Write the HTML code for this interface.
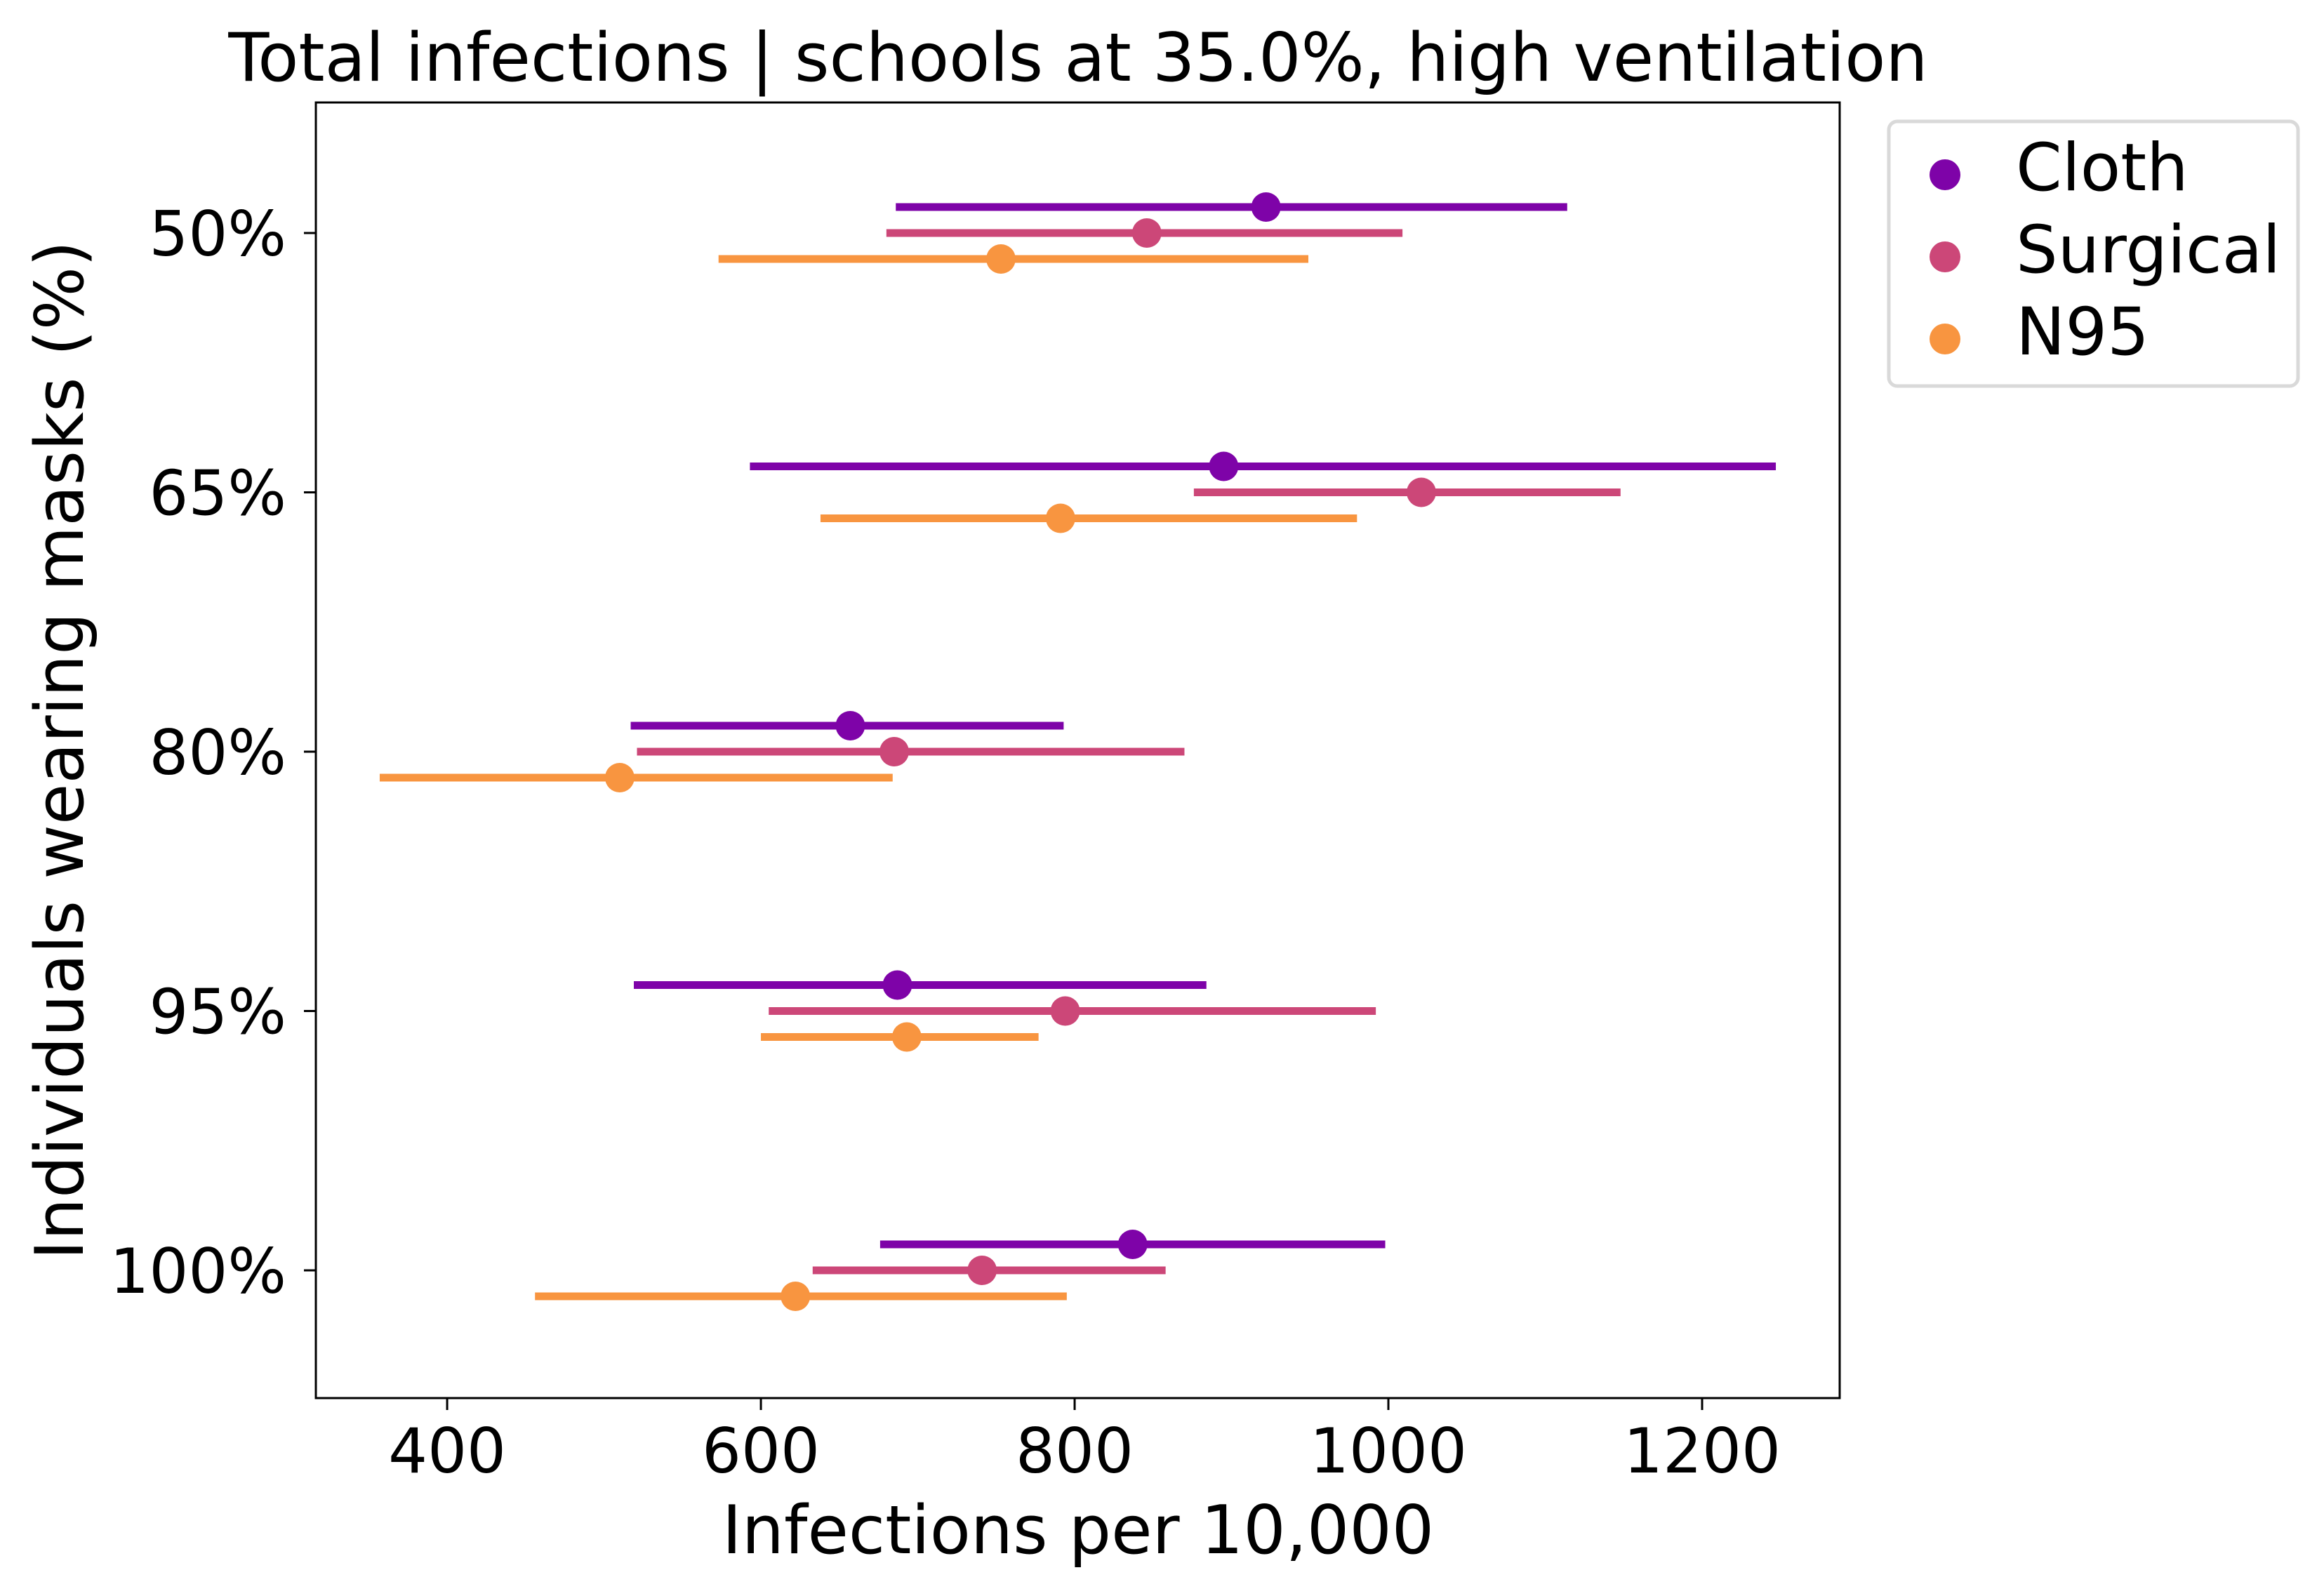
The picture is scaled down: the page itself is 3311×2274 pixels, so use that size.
<!DOCTYPE html>
<html><head><meta charset="utf-8"><style>
html,body{margin:0;padding:0;background:#fff}
svg{display:block;font-family:"DejaVu Sans","Liberation Sans",sans-serif}
</style></head><body>
<svg id="chart" width="3311" height="2274" viewBox="0 0 3311 2274" xmlns="http://www.w3.org/2000/svg">
<rect width="3311" height="2274" fill="#fff"/>
<g id="plot"></g>
<rect x="450" y="146" width="2171" height="1846" fill="none" stroke="#000" stroke-width="3"/>
<g id="axes"></g>
<text x="1536" y="115" font-size="95" text-anchor="middle">Total infections | schools at 35.0%, high ventilation</text>
<text x="1536" y="2213" font-size="95" text-anchor="middle">Infections per 10,000</text>
<text transform="translate(118,1069) rotate(-90)" font-size="95" text-anchor="middle">Individuals wearing masks (%)</text>
<g>
<rect x="2691" y="173" width="583" height="377" rx="12" fill="#fff" stroke="#d9d9d9" stroke-width="5"/>
<g id="legend"></g>
</g>
</svg>
<script>
const categories = ["50%","65%","80%","95%","100%"];
const seriesNames = ["Cloth","Surgical","N95"];
const seriesColors = ["#7e03a8","#cc4778","#f89540"];
const clothMid = [922,895,657,687,837];
const clothLo = [686,593,517,519,676];
const clothHi = [1114,1247,793,884,998];
const surgicalMid = [846,1021,685,794,741];
const surgicalLo = [680,876,521,605,633];
const surgicalHi = [1009,1148,870,992,858];
const n95Mid = [753,791,510,693,622];
const n95Lo = [573,638,357,600,456];
const n95Hi = [949,980,684,777,795];
const xTicks = [400,600,800,1000,1200];

const NS="http://www.w3.org/2000/svg";
const X0=450,X1=2621,Y0=146,Y1=1992;
const xMin=316.3,xMax=1287.7;
function xs(v){return X0+(v-xMin)/(xMax-xMin)*(X1-X0);}
function ys(i){return 332+i*369.5;}
const offs=[-37,0,37];
function mk(tag,attrs,parent){const e=document.createElementNS(NS,tag);for(const k in attrs)e.setAttribute(k,attrs[k]);parent.appendChild(e);return e;}
const plot=document.getElementById('plot'),axes=document.getElementById('axes'),leg=document.getElementById('legend');
const series=[[clothMid,clothLo,clothHi],[surgicalMid,surgicalLo,surgicalHi],[n95Mid,n95Lo,n95Hi]];
series.forEach((s,si)=>{
  categories.forEach((c,i)=>{
    const y=ys(i)+offs[si];
    const l=mk('line',{x1:xs(s[1][i]),x2:xs(s[2][i]),y1:y,y2:y,stroke:seriesColors[si],'stroke-width':11},plot);
    
    
    const p=mk('circle',{cx:xs(s[0][i]),cy:y,r:21,fill:seriesColors[si]},plot);
    
    
  });
  const ly=249+si*117;
  const lm=mk('circle',{cx:2771,cy:ly,r:22,fill:seriesColors[si]},leg);
  
  
  const lt=mk('text',{x:2872,y:ly+22,'font-size':94},leg);
  lt.textContent=seriesNames[si];
  
  
});
xTicks.forEach(t=>{
  const x=xs(t);
  const tk=mk('line',{x1:x,x2:x,y1:Y1,y2:Y1+17,stroke:'#000','stroke-width':3},axes);
  
  
  const tl=mk('text',{x:x,y:2098,'font-size':88,'text-anchor':'middle'},axes);
  tl.textContent=t;
  
  
});
categories.forEach((c,i)=>{
  const y=ys(i);
  const tk=mk('line',{x1:X0-17,x2:X0,y1:y,y2:y,stroke:'#000','stroke-width':3},axes);
  
  
  const tl=mk('text',{x:408,y:y+32,'font-size':88,'text-anchor':'end'},axes);
  tl.textContent=c;
  
  
});
</script>
</body></html>
